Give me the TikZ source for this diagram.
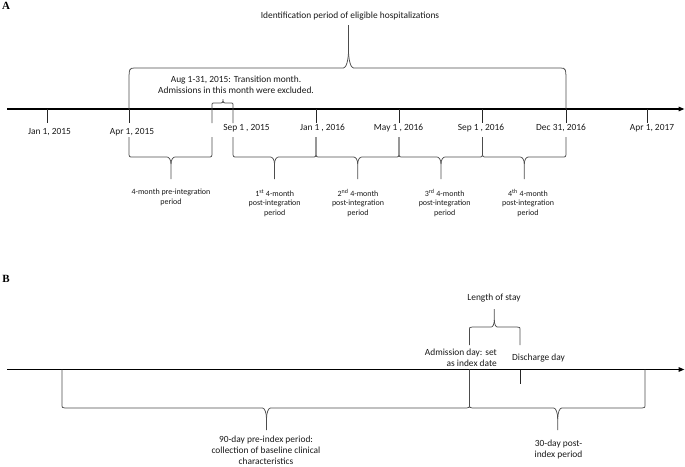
\documentclass[tikz,border=0pt]{standalone}
\usepackage{fontspec}
\setmainfont{Carlito}
\newfontfamily\panelfont{Liberation Serif}
\usetikzlibrary{arrows.meta}
\def\bcdx{4}\def\bcdy{5}\def\bkdx{4}\def\bkdy{7}
% curly brace: #1 left x, #2 right x, #3 cusp x, #4 arm end y, #5 bar y, #6 tip y
\newcommand\cbrace[6]{%
  \pgfmathsetmacro\bsgn{sign(#5-#4)}%
  \draw[brc] (#1,#4) -- (#1,{#5-(\bsgn)*\bcdy}) .. controls (#1,#5) .. ({#1+\bcdx},#5)
     -- ({#3-\bkdx},#5) .. controls ({#3-0.5*\bkdx},#5) and (#3,{#5+0.4*(\bsgn)*\bkdy}) .. (#3,{#5+(\bsgn)*\bkdy}) -- (#3,#6);
  \draw[brc] (#3,{#5+(\bsgn)*\bkdy}) .. controls (#3,{#5+0.4*(\bsgn)*\bkdy}) and ({#3+0.5*\bkdx},#5) .. ({#3+\bkdx},#5)
     -- ({#2-\bcdx},#5) .. controls (#2,#5) .. (#2,{#5-(\bsgn)*\bcdy}) -- (#2,#4);
}
\begin{document}
\begin{tikzpicture}[x=1pt,y=-1pt,
  axis/.style={line width=1.4pt,-{Triangle[length=6pt,width=4.5pt]}},
  tick/.style={line width=0.9pt,black!85},
  brc/.style={line width=0.75pt,black!70},
  big/.style={font=\fontsize{9.4}{11}\selectfont,inner sep=0pt,align=center,text=black!90},
  small/.style={font=\fontsize{8}{9.5}\selectfont,inner sep=0pt,align=center,text=black!90},
  panel/.style={font=\panelfont\bfseries\fontsize{11}{13}\selectfont,inner sep=0pt}]
\useasboundingbox (0,0) rectangle (685,466);

% ---------------- Panel A ----------------
\node[panel,anchor=base] (lA) at (6,9.5) {A};
\coordinate (aL) at (7,109);
\coordinate (aR) at (684.5,109);
\draw[axis] (aL) -- (aR);
\foreach \n/\x in {j15/47.5,a15/129,j16/316,m16/399,s16/482.5,d16/566,a17/647}{
  \coordinate (t\n) at (\x,109);
  \coordinate (b\n) at (\x,123);
  \draw[tick] (t\n) -- (b\n);
}
% transition bracket
\def\bcdx{2}\def\bcdy{2}\def\bkdx{2}\def\bkdy{2}
\cbrace{212}{233}{223}{123}{103}{99}
% top brace
\def\bcdx{6}\def\bcdy{16}\def\bkdx{5}\def\bkdy{18}
\cbrace{129}{566}{348.5}{109}{68}{25}
% bottom braces
\def\bcdx{4}\def\bcdy{5}\def\bkdx{4}\def\bkdy{7}
\cbrace{129}{212}{171}{137}{157}{179}
\cbrace{233}{316}{274.5}{137}{157}{179}
\cbrace{316}{399}{357.7}{137}{157}{179}
\cbrace{399}{482.5}{441}{137}{157}{179}
\cbrace{482.5}{566}{524.3}{137}{157}{179}

\node[big] (title) at (350,16) {Identification period of eligible hospitalizations};
\node[big,anchor=north] (trans) at (236,75.6) {Aug 1-31, 2015: Transition month.\\Admissions in this month were excluded.};
\node[big] (Lj15) at (49.5,132) {Jan 1, 2015};
\node[big] (La15) at (132,132) {Apr 1, 2015};
\node[big] (Ls15) at (246.5,128) {Sep 1 , 2015};
\node[big] (Lj16) at (322.5,128) {Jan 1 , 2016};
\node[big] (Lm16) at (398.5,128) {May 1 , 2016};
\node[big] (Ls16) at (481,128) {Sep 1 , 2016};
\node[big] (Ld16) at (561,128) {Dec 31, 2016};
\node[big] (La17) at (652,128) {Apr 1, 2017};

\node[small,anchor=north] (p0) at (171,189.2) {4-month pre-integration\\period};
\node[small,anchor=north] (p1) at (274.7,189.2) {1\textsuperscript{st} 4-month\\post-integration\\period};
\node[small,anchor=north] (p2) at (358,189.2) {2\textsuperscript{nd} 4-month\\post-integration\\period};
\node[small,anchor=north] (p3) at (444.7,189.2) {3\textsuperscript{rd} 4-month\\post-integration\\period};
\node[small,anchor=north] (p4) at (528,189.2) {4\textsuperscript{th} 4-month\\post-integration\\period};

% ---------------- Panel B ----------------
\node[panel,anchor=base] (lB) at (6,282) {B};
\coordinate (bL) at (7,369.5);
\coordinate (bR) at (684.5,369.5);
\draw[axis] (bL) -- (bR);
\coordinate (dT) at (520,369.5);
\coordinate (dB) at (520,384);
\draw[tick] (dT) -- (dB);

\def\bcdx{3}\def\bcdy{5}\def\bkdx{4}\def\bkdy{11}
\cbrace{62}{469.5}{266.5}{369.5}{408}{430}
\cbrace{469.5}{645}{557.7}{369.5}{408}{430}
\def\bcdx{3}\def\bcdy{4}\def\bkdx{3}\def\bkdy{7}
\cbrace{469.5}{520}{494.3}{345}{327}{309}

\node[big] (los) at (494,298) {Length of stay};
\node[big,anchor=north east,align=right] (adm) at (497,348.6) {Admission day: set\\as index date};
\node[big] (dis) at (538.5,358) {Discharge day};
\node[big,anchor=north] (pre) at (266,435.6) {90-day pre-index period:\\collection of baseline clinical\\characteristics};
\node[big,anchor=north] (post) at (558.5,439.6) {30-day post-\\index period};
\end{tikzpicture}
\end{document}
